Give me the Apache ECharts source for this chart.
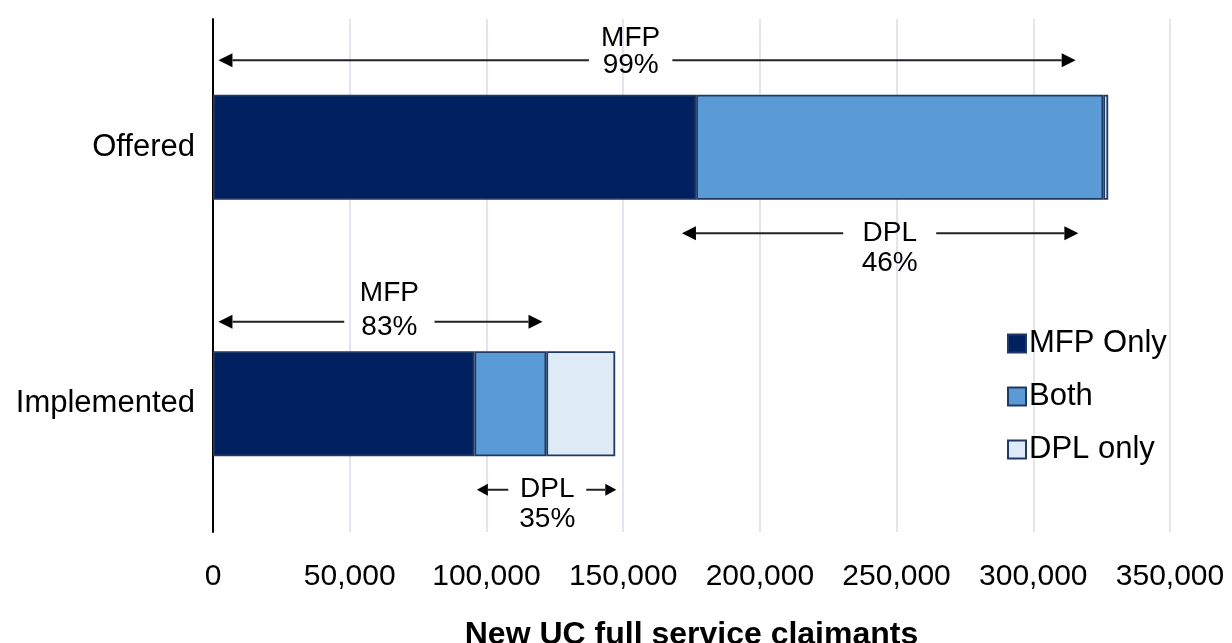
<!DOCTYPE html>
<html><head><meta charset="utf-8">
<script src="https://cdn.jsdelivr.net/npm/echarts@6/dist/echarts.min.js"></script>
<style>html,body{margin:0;padding:0;background:#fff}#c{width:1232px;height:643px}</style>
</head><body><div id="c"></div>
<script>
const categories = ['Offered', 'Implemented'];
const seriesNames = ['MFP Only', 'Both', 'DPL only'];
const mfpOnly = [176700, 95600];
const both = [148900, 26300];
const dplOnly = [1800, 25200];
const xTicks = [0, 50000, 100000, 150000, 200000, 250000, 300000, 350000];
// annotation spans (data units): category, arrow from/to, text gap from/to, text lines
const annotations = [
  {cat: 0, from: 2000, to: 315500, gapFrom: 137500, gapTo: 168000, top: 'MFP', bottom: '99%'},
  {cat: 0, from: 171500, to: 316500, gapFrom: 230500, gapTo: 264500, top: 'DPL', bottom: '46%'},
  {cat: 1, from: 2000, to: 120500, gapFrom: 48000, gapTo: 81000, top: 'MFP', bottom: '83%'},
  {cat: 1, from: 96500, to: 147500, gapFrom: 108000, gapTo: 136500, top: 'DPL', bottom: '35%'}
];
// pixel offsets from category centre (layout only)
const annLayout = [
  {lineDy: -87, topDy: -109, botDy: -82},
  {lineDy: 86, topDy: 86, botDy: 116},
  {lineDy: -82, topDy: -110, botDy: -76},
  {lineDy: 86, topDy: 86, botDy: 116}
];

const chart = echarts.init(document.getElementById('c'));
const FONT = 'Liberation Sans, Arial, sans-serif';
const border = {borderColor: '#1F3864', borderWidth: 1.8};
const colors = ['#002060', '#5B9BD5', '#DEEBF7'];
const values = [mfpOnly, both, dplOnly];
chart.setOption({
  animation: false,
  grid: {left: 213, right: 62, top: 19, bottom: 111, containLabel: false, outerBoundsMode: 'none'},
  legend: {
    orient: 'vertical', left: 1002, top: 323, itemGap: 22,
    itemWidth: 18, itemHeight: 18, icon: 'rect',
    textStyle: {fontFamily: FONT, fontSize: 31, color: '#000', padding: [0, 0, 0, -2]},
    data: seriesNames
  },
  xAxis: {
    type: 'value', min: 0, max: 350000, interval: 50000,
    axisLine: {show: false}, axisTick: {show: false},
    splitLine: {lineStyle: {color: '#D9DCE6', width: 1.5}},
    axisLabel: {fontFamily: FONT, fontSize: 30, color: '#000', margin: 30,
      formatter: v => v.toLocaleString('en-US')},
    name: 'New UC full service claimants', nameLocation: 'middle', nameGap: 87,
    nameTextStyle: {fontFamily: FONT, fontSize: 32, fontWeight: 'bold', color: '#000'}
  },
  yAxis: {
    type: 'category', data: categories, inverse: true,
    axisLine: {show: true, lineStyle: {color: '#000', width: 2}},
    axisTick: {show: false},
    axisLabel: {fontFamily: FONT, fontSize: 31, color: '#000', margin: 18}
  },
  series: seriesNames.map((n, i) => ({
    name: n, type: 'bar', stack: 's', data: values[i], barWidth: 105,
    itemStyle: Object.assign({color: colors[i]}, border)
  }))
});

function drawAnnotations() {
  const els = [];
  annotations.forEach((a, k) => {
    const L = annLayout[k];
    const px = v => chart.convertToPixel({gridIndex: 0}, [v, a.cat]);
    const p1 = px(a.from), p2 = px(a.to), g1 = px(a.gapFrom), g2 = px(a.gapTo);
    const cy = p1[1];
    const lineY = cy + L.lineDy;
    const x1 = p1[0], x2 = p2[0];
    const cx = (g1[0] + g2[0]) / 2;
    const small = (x2 - x1) < 200;
    const ah = small ? 11 : 14, aw = small ? 6 : 7;
    const ls = {stroke: '#222', lineWidth: 2};
    els.push({type: 'line', shape: {x1: x1 + ah, y1: lineY, x2: g1[0], y2: lineY}, style: ls, silent: true});
    els.push({type: 'line', shape: {x1: g2[0], y1: lineY, x2: x2 - ah, y2: lineY}, style: ls, silent: true});
    els.push({type: 'polygon', shape: {points: [[x1, lineY], [x1 + ah, lineY - aw], [x1 + ah, lineY + aw]]}, style: {fill: '#000'}, silent: true});
    els.push({type: 'polygon', shape: {points: [[x2, lineY], [x2 - ah, lineY - aw], [x2 - ah, lineY + aw]]}, style: {fill: '#000'}, silent: true});
    els.push({type: 'text', x: cx, y: cy + L.topDy, style: {text: a.top, font: '28px ' + FONT, fill: '#000', align: 'center', verticalAlign: 'middle'}, silent: true});
    els.push({type: 'text', x: cx, y: cy + L.botDy, style: {text: a.bottom, font: '28px ' + FONT, fill: '#000', align: 'center', verticalAlign: 'middle'}, silent: true});
  });
  chart.setOption({graphic: els});
}
drawAnnotations();
</script>
</body></html>
